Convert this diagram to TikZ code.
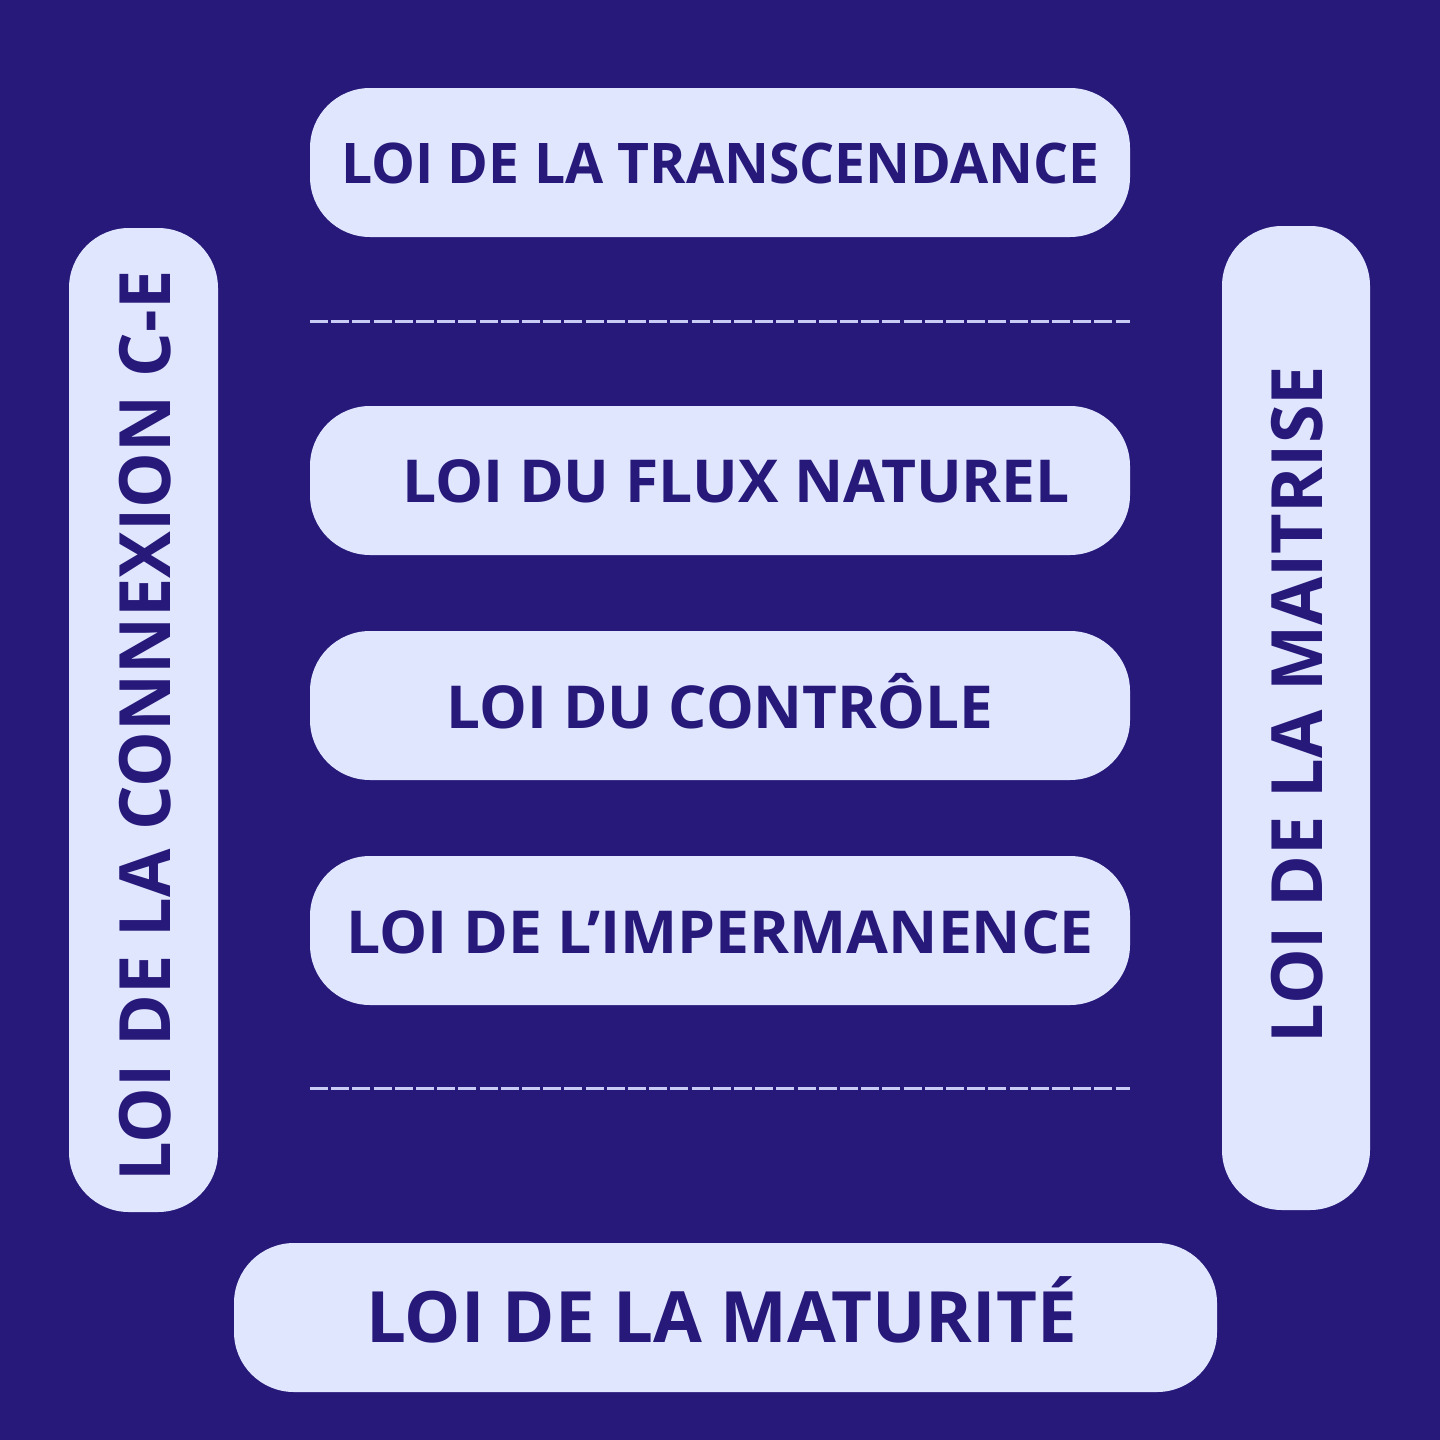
\documentclass[tikz,border=0pt]{standalone}
\usepackage{fontspec}
\setmainfont{Open Sans}
\definecolor{bg}{HTML}{27197A}
\definecolor{pill}{HTML}{E0E6FE}
\definecolor{dash}{HTML}{C9CCF4}
\tikzset{
  pillbox/.style={fill=pill, draw=none, rounded corners=30pt, inner sep=0pt},
  lbl/.style={text=bg, inner sep=0pt, anchor=base},
  sep/.style={draw=dash, line width=1.5pt, dash pattern=on 9pt off 1.6pt},
}
\newcommand{\lawtxt}[3]{\scalebox{#2}[1]{\bfseries\fontsize{#1}{#1}\selectfont #3}}
\begin{document}
\begin{tikzpicture}[x=0.5pt,y=-0.5pt]
\fill[bg] (0,0) rectangle (1440,1440);
\useasboundingbox (0,0) rectangle (1440,1440);
% horizontal pills
\node[pillbox, minimum width=410pt, minimum height=74.5pt] (p1) at (720,162.5) {};
\node[pillbox, minimum width=410pt, minimum height=74.5pt] (p2) at (720,480.5) {};
\node[pillbox, minimum width=410pt, minimum height=74.5pt] (p3) at (720,705.5) {};
\node[pillbox, minimum width=410pt, minimum height=74.5pt] (p4) at (720,930.5) {};
\node[pillbox, minimum width=491.5pt, minimum height=74.5pt] (p5) at (725.5,1317.5) {};
% vertical pills
\node[pillbox, minimum width=74.5pt, minimum height=492pt] (pl) at (143.5,720) {};
\node[pillbox, minimum width=74pt, minimum height=492pt] (pr) at (1296,718) {};
% labels
\node[lbl] (t1) at (720.5,183.3) {\lawtxt{28}{0.987}{LOI DE LA TRANSCENDANCE}};
\node[lbl] (t2) at (736,502.3) {\lawtxt{29.6}{1.023}{LOI DU FLUX NATUREL}};
\node[lbl] (t3) at (720,728.3) {\lawtxt{29.6}{1.017}{LOI DU CONTRÔLE}};
\node[lbl] (t4) at (720,953.3) {\lawtxt{29.6}{1.024}{LOI DE L’IMPERMANENCE}};
\node[lbl] (t5) at (721.5,1342.3) {\lawtxt{35.4}{1.0}{LOI DE LA MATURITÉ}};
\node[lbl, rotate=90] (tl) at (170.7,726.2) {\lawtxt{35.4}{0.991}{LOI DE LA CONNEXION C-E}};
\node[lbl, rotate=90] (tr) at (1322.3,704.5) {\lawtxt{35.4}{0.991}{LOI DE LA MAITRISE}};
% dashed separators
\coordinate (d1a) at (310,321); \coordinate (d1b) at (1130,321);
\coordinate (d2a) at (310,1088); \coordinate (d2b) at (1130,1088);
\draw[sep] (d1a) -- (d1b);
\draw[sep] (d2a) -- (d2b);
\end{tikzpicture}
\end{document}
